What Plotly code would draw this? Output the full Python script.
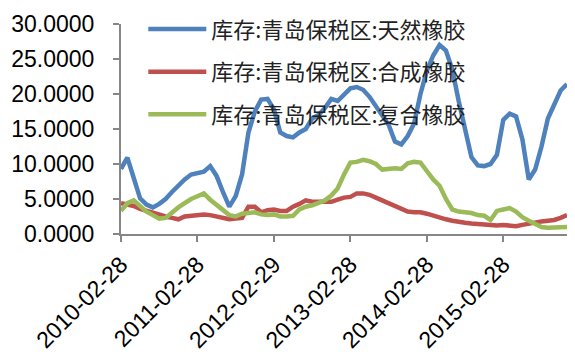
import pandas as pd
import plotly.graph_objects as go

dates = [d.strftime("%Y-%m-%d") for d in pd.date_range("2010-02-28", "2015-12-31", freq="ME")]

natural = [9.3, 10.9, 8.0, 5.1, 4.2, 3.8, 4.3, 5.0, 6.0, 7.0,
           7.8, 8.5, 8.7, 8.9, 9.7, 8.3, 6.0, 3.9, 5.4, 8.5,
           14.5, 17.5, 19.2, 19.3, 17.8, 14.5, 14.0, 13.8, 14.5, 15.0,
           16.5, 17.0, 18.0, 19.3, 19.0, 20.0, 20.8, 21.0, 20.6, 19.6,
           18.3, 17.0, 15.6, 13.2, 12.8, 14.0, 15.8, 20.0, 23.3, 25.5,
           27.0, 26.2, 23.5, 19.0, 15.0, 11.0, 9.8, 9.7, 10.0, 11.3,
           16.3, 17.2, 16.8, 13.5, 7.8, 9.2, 12.5, 16.5, 18.5, 20.5, 21.4]
synthetic = [4.4, 4.2, 4.0, 3.6, 3.3, 3.0, 2.8, 2.5, 2.3, 2.1,
             2.5, 2.6, 2.7, 2.8, 2.7, 2.5, 2.3, 2.1, 2.2, 2.3,
             3.9, 3.9, 3.1, 3.4, 3.5, 3.3, 3.3, 3.9, 4.3, 4.8,
             4.6, 4.6, 4.5, 4.6, 4.9, 5.2, 5.3, 5.8, 5.8, 5.6,
             5.2, 4.8, 4.3, 3.9, 3.6, 3.2, 3.1, 3.1, 2.9, 2.6,
             2.4, 2.1, 1.9, 1.7, 1.6, 1.5, 1.4, 1.3, 1.3, 1.2,
             1.3, 1.2, 1.1, 1.3, 1.5, 1.6, 1.8, 1.9, 2.0, 2.3, 2.7]
compound = [3.3, 4.4, 4.8, 3.9, 3.2, 2.7, 2.2, 2.3, 3.1, 3.8,
            4.4, 5.0, 5.4, 5.8, 4.9, 4.1, 3.4, 2.7, 2.5, 2.9,
            3.0, 3.1, 2.8, 2.7, 2.8, 2.5, 2.5, 2.6, 3.5, 3.9,
            4.1, 4.4, 4.8, 5.5, 6.5, 8.5, 10.2, 10.3, 10.6, 10.4,
            10.0, 9.2, 9.3, 9.4, 9.3, 10.1, 10.3, 10.2, 9.0, 7.8,
            6.9, 5.0, 3.5, 3.2, 3.1, 3.0, 2.7, 2.6, 2.0, 3.3,
            3.5, 3.7, 3.2, 2.4, 1.9, 1.4, 1.0, 0.9, 0.9, 0.9, 1.0]

names = ["库存:青岛保税区:天然橡胶", "库存:青岛保税区:合成橡胶", "库存:青岛保税区:复合橡胶"]
colors = ["#4F81BD", "#C0504D", "#9BBB59"]
series = [natural, synthetic, compound]
tick_labels = ["2010-02-28", "2011-02-28", "2012-02-29", "2013-02-28", "2014-02-28", "2015-02-28"]

fig = go.Figure()
for i, (nm, c, s) in enumerate(zip(names, colors, series)):
    fig.add_trace(go.Scatter(x=dates, y=s, mode="lines", name=nm,
                             legendgroup=f"g{i}",
                             line=dict(color=c, width=4.5)))

fig.update_layout(
    width=575, height=361,
    margin=dict(l=121, r=8, t=21, b=124),
    paper_bgcolor="white", plot_bgcolor="white",
    font=dict(family="Liberation Sans, Arial, sans-serif", color="black"),
    showlegend=True,
    legend=dict(x=0.05, y=1.075, xanchor="left", yanchor="top",
                bgcolor="rgba(0,0,0,0)", itemwidth=58, tracegroupgap=11,
                font=dict(family="Noto Sans CJK SC", size=22, color="#222")),
    xaxis=dict(type="category", range=[0, len(dates) - 1],
               tickmode="array", tickvals=tick_labels, ticktext=tick_labels,
               tickangle=-45, tickfont=dict(size=23),
               showline=True, linecolor="#868686", linewidth=2,
               ticks="outside", ticklen=6, tickcolor="#868686", tickwidth=2,
               showgrid=False, zeroline=False),
    yaxis=dict(range=[0, 30], dtick=5, tickformat=".4f",
               tickfont=dict(size=23),
               showline=True, linecolor="#868686", linewidth=2,
               ticks="outside", ticklen=6, tickcolor="#868686", tickwidth=2,
               ticklabelstandoff=14,
               showgrid=False, zeroline=False),
)

fig.write_html("out.html")
